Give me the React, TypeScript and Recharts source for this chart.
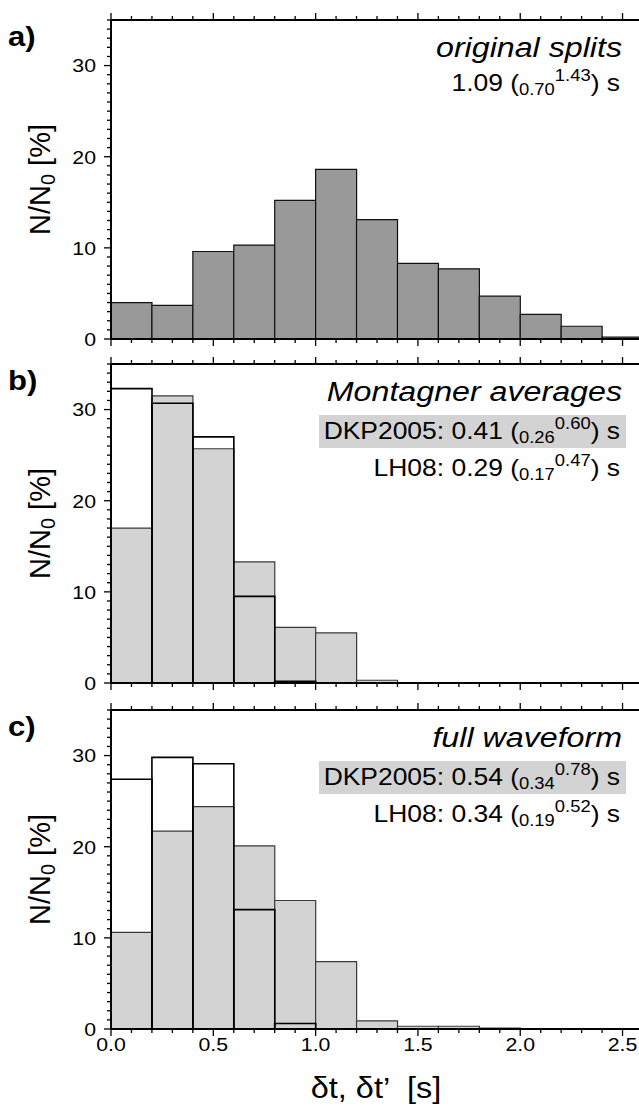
import React from 'react';
import { BarChart, Bar, XAxis, YAxis, Customized } from 'recharts';

// Histogram bins (start of each 0.2 s bin)
const bins = ['0.0', '0.2', '0.4', '0.6', '0.8', '1.0', '1.2', '1.4', '1.6', '1.8', '2.0', '2.2', '2.4'];

// Percent of measurements per bin
const originalSplits = [4.0, 3.7, 9.6, 10.3, 15.2, 18.6, 13.1, 8.3, 7.7, 4.7, 2.7, 1.4, 0.2];
const montagnerDKP = [17.0, 31.5, 25.7, 13.3, 6.1, 5.5, 0.3, 0, 0, 0, 0, 0, 0];
const montagnerLH08 = [32.3, 30.7, 27.0, 9.5, 0.2, 0, 0, 0, 0, 0, 0, 0, 0];
const waveformDKP = [10.6, 21.7, 24.4, 20.1, 14.1, 7.4, 0.9, 0.3, 0.3, 0.1, 0, 0, 0];
const waveformLH08 = [27.4, 29.8, 29.1, 13.1, 0.6, 0, 0, 0, 0, 0, 0, 0, 0];

// y ticks: minor every 1 %, labelled every 10 %
const yTicks = [0, 1, 2, 3, 4, 5, 6, 7, 8, 9, 10, 11, 12, 13, 14, 15, 16, 17, 18, 19, 20, 21, 22, 23, 24, 25, 26, 27, 28, 29, 30, 31, 32, 33, 34, 35];

// Median and range labels: [median, lower, upper]
const statsOriginal = ['1.09', '0.70', '1.43'];
const statsMontDKP = ['0.41', '0.26', '0.60'];
const statsMontLH = ['0.29', '0.17', '0.47'];
const statsWaveDKP = ['0.54', '0.34', '0.78'];
const statsWaveLH = ['0.34', '0.19', '0.52'];

const FONT = '"Liberation Sans", Arial, Helvetica, sans-serif';
const SX = 1.15; // horizontal stretch of the lettering

const CHART_W = 643;
const PLOT_LEFT = 111;
const PLOT_TOP = 20;
const PLOT_H = 319;
const TITLE_RIGHT = 622;
const STAT_RIGHT = 620;
const BIN_W = 0.2;

const isMajor = (v: number, step: number) => {
  const r = v / step;
  return Math.abs(r - Math.round(r)) < 1e-6;
};

// Each category tick draws the bin edge tick and the bin-centre tick (0.1 s spacing).
const BinTick = (props: any, dir: 1 | -1, showLabel: boolean) => {
  const { x, y, payload } = props;
  const half = typeof payload.offset === 'number' && payload.offset > 0 ? payload.offset : (CHART_W - PLOT_LEFT) / 26;
  const start = parseFloat(payload.value);
  const marks = [
    { v: start, px: x - half },
    { v: start + BIN_W / 2, px: x },
  ];
  return (
    <g>
      {marks.map((m, i) => {
        const major = isMajor(m.v, 0.5);
        return (
          <g key={i}>
            <line x1={m.px} x2={m.px} y1={y} y2={y + dir * (major ? 7 : 4)} stroke="#000" strokeWidth={1.3} />
            {showLabel && major && (
              <text transform={`translate(${m.px},${y + 22}) scale(1.12,1)`} textAnchor="middle" fontSize={19} fontFamily={FONT} fill="#000">
                {m.v.toFixed(1)}
              </text>
            )}
          </g>
        );
      })}
    </g>
  );
};

const LeftTick = (props: any) => {
  const { x, y, payload } = props;
  const v = payload.value as number;
  const major = isMajor(v, 10);
  return (
    <g>
      <line x1={x} x2={x - (major ? 7 : 4)} y1={y} y2={y} stroke="#000" strokeWidth={1.3} />
      {major && (
        <text transform={`translate(${x - 15},${y}) scale(1.12,1)`} dy="0.36em" textAnchor="end" fontSize={19} fontFamily={FONT} fill="#000">
          {v}
        </text>
      )}
    </g>
  );
};

function StatLine({ y, prefix, stats, size }: { y: number; prefix: string; stats: string[]; size: number }) {
  const small = Math.round(size * 0.68);
  return (
    <text transform={`translate(${STAT_RIGHT},${y}) scale(${SX},1)`} textAnchor="end" fontSize={size} fontFamily={FONT} fill="#000" style={{ whiteSpace: 'pre' }}>
      {`${prefix}${stats[0]} (`}
      <tspan fontSize={small} dy={4}>{stats[1]}</tspan>
      <tspan fontSize={small} dy={-14}>{stats[2]}</tspan>
      <tspan dy={10}>{') s'}</tspan>
    </text>
  );
}

function YLabel() {
  const cy = PLOT_TOP + PLOT_H / 2;
  return (
    <text transform={`translate(50,${cy}) rotate(-90)`} textAnchor="middle" fontSize={29} fontFamily={FONT} fill="#000">
      N/N
      <tspan fontSize={20} dy={5}>0</tspan>
      <tspan dy={-5}>{' [%]'}</tspan>
    </text>
  );
}

function PanelLetter({ letter }: { letter: string }) {
  return (
    <text transform={`translate(8,${PLOT_TOP + 26}) scale(${SX},1)`} fontSize={27} fontWeight="bold" fontFamily={FONT} fill="#000">
      {letter}
    </text>
  );
}

function Title({ text }: { text: string }) {
  return (
    <text transform={`translate(${TITLE_RIGHT},${PLOT_TOP + 37}) scale(${SX},1)`} textAnchor="end" fontSize={28} fontStyle="italic" fontFamily={FONT} fill="#000">
      {text}
    </text>
  );
}

function HighlightBox() {
  return <rect x={319} y={PLOT_TOP + 51} width={307} height={33} fill="#d3d3d3" />;
}

const makeData = (a: number[], b?: number[]) =>
  bins.map((bin, i) => ({ bin, dkp: a[i], lh08: b ? b[i] : 0 }));

const dataA = makeData(originalSplits);
const dataB = makeData(montagnerDKP, montagnerLH08);
const dataC = makeData(waveformDKP, waveformLH08);

function Panel({
  data,
  height,
  overlay,
  showXLabels,
  fill,
  stroke,
  annotations,
}: {
  data: any[];
  height: number;
  overlay: boolean;
  showXLabels: boolean;
  fill: string;
  stroke: string;
  annotations: React.ReactNode;
}) {
  return (
    <BarChart
      width={CHART_W}
      height={height}
      data={data}
      margin={{ top: 0, right: 0, bottom: height - PLOT_TOP - PLOT_H - 40, left: 0 }}
      barCategoryGap={0}
      barGap={0}
    >
      <XAxis
        xAxisId="bins"
        dataKey="bin"
        type="category"
        orientation="bottom"
        interval={0}
        height={40}
        tickSize={0}
        tickMargin={0}
        tickLine={false}
        axisLine={{ stroke: '#000', strokeWidth: 2 }}
        tick={(p: any) => BinTick(p, 1, showXLabels)}
      />
      <XAxis
        xAxisId="binsTop"
        dataKey="bin"
        type="category"
        orientation="top"
        interval={0}
        height={PLOT_TOP}
        tickSize={0}
        tickMargin={0}
        tickLine={false}
        axisLine={{ stroke: '#000', strokeWidth: 2 }}
        tick={(p: any) => BinTick(p, -1, false)}
      />
      <YAxis
        type="number"
        domain={[0, 35]}
        allowDataOverflow
        ticks={yTicks}
        interval={0}
        width={PLOT_LEFT}
        tickSize={0}
        tickMargin={0}
        tickLine={false}
        axisLine={{ stroke: '#000', strokeWidth: 2 }}
        tick={LeftTick}
      />
      <Customized component={() => <g>{annotations}</g>} />
      <Bar xAxisId="bins" dataKey="dkp" fill={fill} stroke={stroke} strokeWidth={1.2} isAnimationActive={false} />
      {overlay && (
        <Bar xAxisId="binsTop" dataKey="lh08" fill="none" stroke="#000" strokeWidth={1.6} isAnimationActive={false} />
      )}
    </BarChart>
  );
}

export default function App() {
  return (
    <div style={{ position: 'relative', width: 639, height: 1111, overflow: 'hidden', background: '#fff' }}>
      <style>{'body{margin:0;overflow:hidden}'}</style>
      <div style={{ position: 'absolute', left: 0, top: 0 }}>
        <Panel
          data={dataA}
          height={379}
          overlay={false}
          showXLabels={false}
          fill="#999999"
          stroke="#111"
          annotations={
            <>
              <YLabel />
              <PanelLetter letter="a)" />
              <Title text="original splits" />
              <StatLine y={PLOT_TOP + 71} prefix="" stats={statsOriginal} size={23} />
            </>
          }
        />
      </div>
      <div style={{ position: 'absolute', left: 0, top: 344 }}>
        <Panel
          data={dataB}
          height={379}
          overlay
          showXLabels={false}
          fill="#d3d3d3"
          stroke="#3a3a3a"
          annotations={
            <>
              <YLabel />
              <PanelLetter letter="b)" />
              <Title text="Montagner averages" />
              <HighlightBox />
              <StatLine y={PLOT_TOP + 75} prefix="DKP2005: " stats={statsMontDKP} size={23} />
              <StatLine y={PLOT_TOP + 112} prefix="LH08: " stats={statsMontLH} size={23} />
            </>
          }
        />
      </div>
      <div style={{ position: 'absolute', left: 0, top: 690 }}>
        <Panel
          data={dataC}
          height={420}
          overlay
          showXLabels
          fill="#d3d3d3"
          stroke="#3a3a3a"
          annotations={
            <>
              <YLabel />
              <PanelLetter letter="c)" />
              <Title text="full waveform" />
              <HighlightBox />
              <StatLine y={PLOT_TOP + 75} prefix="DKP2005: " stats={statsWaveDKP} size={23} />
              <StatLine y={PLOT_TOP + 112} prefix="LH08: " stats={statsWaveLH} size={23} />
              <text
                transform={`translate(376,408) scale(1.12,1)`}
                textAnchor="middle"
                fontSize={29}
                fontFamily={FONT}
                fill="#000"
                style={{ whiteSpace: 'pre' }}
              >
                {'δt, δt’  [s]'}
              </text>
            </>
          }
        />
      </div>
    </div>
  );
}
